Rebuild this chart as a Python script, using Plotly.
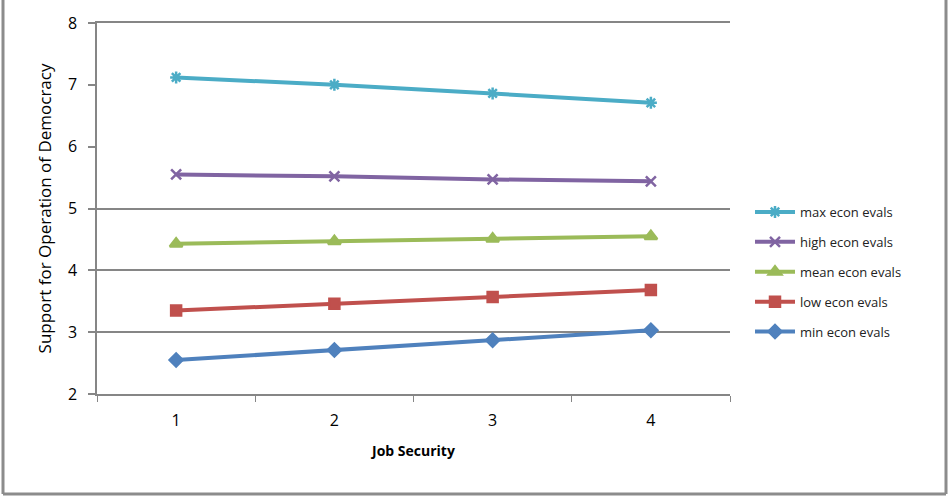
import plotly.graph_objects as go

# Job security levels on the x axis
job_security = [1, 2, 3, 4]

# Predicted support for the operation of democracy at each level of economic evaluation
max_econ = [7.12, 7.00, 6.86, 6.71]
high_econ = [5.55, 5.52, 5.47, 5.44]
mean_econ = [4.43, 4.47, 4.51, 4.55]
low_econ = [3.35, 3.46, 3.57, 3.68]
min_econ = [2.55, 2.71, 2.87, 3.03]

y_ticks = [2, 3, 4, 5, 6, 7, 8]
grid_values = [3, 4, 5]

series = [
    ("max econ evals", max_econ, "#4BACC6", "asterisk-open", 10),
    ("high econ evals", high_econ, "#8064A2", "x-thin-open", 10),
    ("mean econ evals", mean_econ, "#9BBB59", "triangle-up", 11),
    ("low econ evals", low_econ, "#C0504D", "square", 10),
    ("min econ evals", min_econ, "#4F81BD", "diamond", 10),
]

FONT = "Open Sans, Lato, DejaVu Sans, sans-serif"

fig = go.Figure()
for name, vals, color, symbol, size in series:
    fig.add_trace(go.Scatter(
        x=job_security, y=vals, name=name, mode="lines+markers",
        legendgroup=name,
        line=dict(color=color, width=4),
        marker=dict(symbol=symbol, size=size, color=color,
                    line=dict(color=color, width=2.5)),
    ))

W, H = 948, 497
L, R, T, B = 97, 218, 23, 103
pw = W - L - R
ph = H - T - B

def px_x(p):
    return (p - L) / pw

def px_y(p):
    return 1 - (p - T) / ph

fig.update_layout(
    width=W, height=H,
    margin=dict(l=L, r=R, t=T, b=B),
    paper_bgcolor="white", plot_bgcolor="white",
    font=dict(family=FONT, color="#000000"),
    showlegend=True,
    legend=dict(
        xref="container", yref="container",
        x=750 / W, y=1 - 197 / H, xanchor="left", yanchor="top",
        font=dict(size=13, color="#222222", family=FONT),
        tracegroupgap=10, itemwidth=40,
        bgcolor="rgba(0,0,0,0)",
    ),
    xaxis=dict(
        range=[0.5, 4.5], tickvals=job_security, ticks="",
        showgrid=False, zeroline=False,
        showline=True, linecolor="#868686", linewidth=1.5, mirror=True,
        tickfont=dict(size=16, color="#000000"),
        ticklabelstandoff=11,
        minor=dict(tick0=0.5, dtick=1, ticks="outside", ticklen=6,
                   tickcolor="#868686", tickwidth=1, showgrid=False),
        title=dict(text="<b>Job Security</b>", font=dict(size=14, color="#000000"),
                   standoff=16),
    ),
    yaxis=dict(
        range=[2, 8], tickvals=y_ticks, ticks="outside", ticklen=7,
        tickcolor="#868686", tickwidth=1.5,
        showgrid=False, zeroline=False,
        showline=True, linecolor="#868686", linewidth=1.5,
        tickfont=dict(size=16, color="#000000"),
        ticklabelstandoff=8,
        title=dict(text="Support for Operation of Democracy",
                   font=dict(size=17, color="#000000"), standoff=12),
    ),
    yaxis2=dict(
        range=[2, 8], overlaying="y", tickvals=grid_values,
        showgrid=True, gridcolor="#868686", gridwidth=1.5,
        showticklabels=False, ticks="", zeroline=False, showline=False,
    ),
)

# Hidden helper trace so the grid axis is drawn
fig.add_trace(go.Scatter(x=[None], y=[None], yaxis="y2", showlegend=False,
                         hoverinfo="skip"))

# Outer chart frame (left, right and bottom edges)
frame = dict(type="line", xref="paper", yref="paper",
             line=dict(color="#8C8C8C", width=3), layer="above")
fig.add_shape(x0=px_x(3), x1=px_x(3), y0=px_y(0), y1=px_y(494), **frame)
fig.add_shape(x0=px_x(946), x1=px_x(946), y0=px_y(0), y1=px_y(494), **frame)
fig.add_shape(x0=px_x(3), x1=px_x(946), y0=px_y(494), y1=px_y(494), **frame)

fig.write_html("out.html")
